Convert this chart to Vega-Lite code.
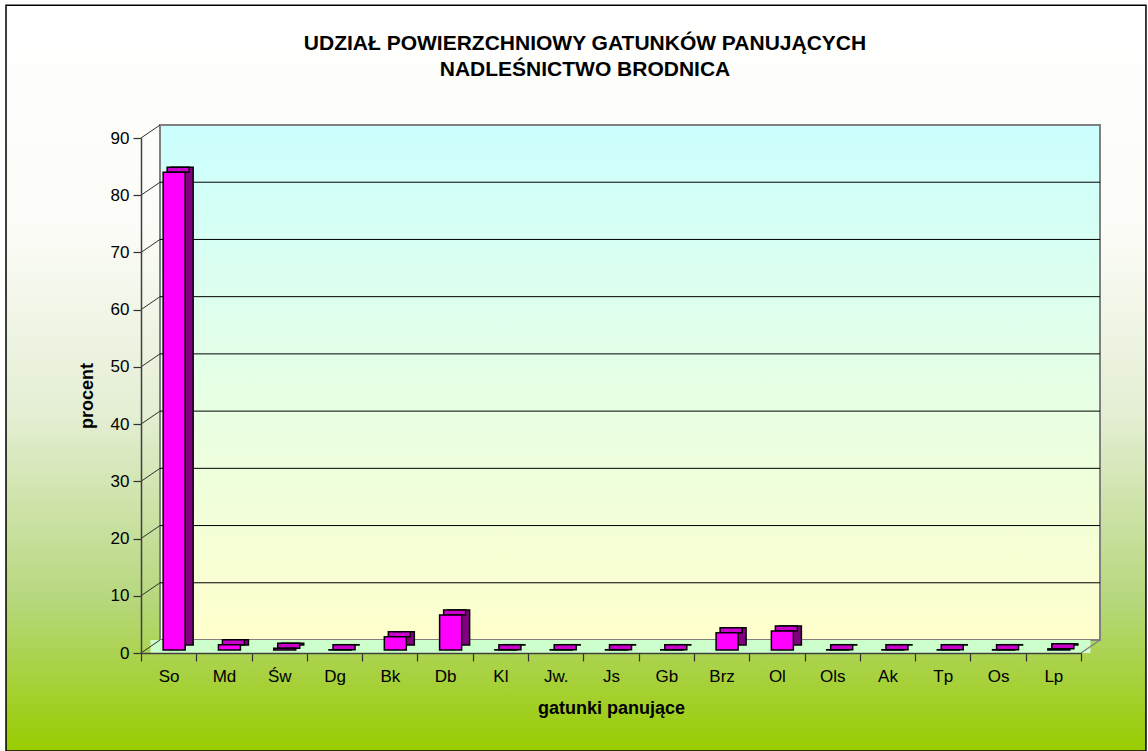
{
  "$schema": "https://vega.github.io/schema/vega-lite/v6.json",
  "width": 940,
  "height": 515,
  "autosize": {"type": "none"},
  "padding": {"left": 141, "top": 138, "right": 67, "bottom": 98},
  "background": "#ffffff",
  "title": {
    "text": ["UDZIAŁ POWIERZCHNIOWY GATUNKÓW PANUJĄCYCH", "NADLEŚNICTWO BRODNICA"],
    "font": "Liberation Sans",
    "fontSize": 21,
    "fontWeight": "bold",
    "color": "#000000",
    "offset": -76,
    "dx": -26,
    "lineHeight": 26,
    "anchor": "middle",
    "frame": "group"
  },
  "datasets": {
    "bars": [
      {"g": "So", "v": 83.5},
      {"g": "Md", "v": 0.9},
      {"g": "Św", "v": 0.3},
      {"g": "Dg", "v": 0.05},
      {"g": "Bk", "v": 2.3},
      {"g": "Db", "v": 6.1},
      {"g": "Kl", "v": 0.05},
      {"g": "Jw.", "v": 0.05},
      {"g": "Js", "v": 0.05},
      {"g": "Gb", "v": 0.05},
      {"g": "Brz", "v": 3.0},
      {"g": "Ol", "v": 3.3},
      {"g": "Ols", "v": 0.05},
      {"g": "Ak", "v": 0.05},
      {"g": "Tp", "v": 0.05},
      {"g": "Os", "v": 0.05},
      {"g": "Lp", "v": 0.2}
    ],
    "ticks": [
      {"t": 0}, {"t": 10}, {"t": 20}, {"t": 30}, {"t": 40},
      {"t": 50}, {"t": 60}, {"t": 70}, {"t": 80}, {"t": 90}
    ],
    "grid": [
      {"t": 10}, {"t": 20}, {"t": 30}, {"t": 40},
      {"t": 50}, {"t": 60}, {"t": 70}, {"t": 80}
    ],
    "one": [{"k": 1}]
  },
  "resolve": {"scale": {"x": "independent"}},
  "layer": [
    {
      "data": {"name": "one"},
      "mark": {
        "type": "rect",
        "fill": {
          "gradient": "linear", "x1": 0, "y1": 0, "x2": 0, "y2": 1,
          "stops": [
            {"offset": 0, "color": "#ffffff"},
            {"offset": 0.3, "color": "#fbfcf7"},
            {"offset": 0.55, "color": "#e4eed3"},
            {"offset": 0.8, "color": "#b6d77c"},
            {"offset": 1, "color": "#99cc00"}
          ]
        },
        "stroke": "#000000", "strokeWidth": 1.5
      },
      "encoding": {
        "x": {"datum": -0.1436, "type": "quantitative", "scale": {"domain": [0, 1], "nice": false, "zero": false}, "axis": null},
        "x2": {"datum": 1.0691},
        "y": {"datum": -17.13, "type": "quantitative"},
        "y2": {"datum": 113.2}
      }
    },
    {
      "layer": [
        {
          "data": {"name": "one"},
          "mark": {
            "type": "rect",
            "fill": {
              "gradient": "linear", "x1": 0, "y1": 0, "x2": 0, "y2": 1,
              "stops": [{"offset": 0, "color": "#ccffff"}, {"offset": 1, "color": "#ffffcc"}]
            },
            "stroke": "#808080", "strokeWidth": 2,
            "xOffset": 19, "x2Offset": 19, "yOffset": -13, "y2Offset": -13
          },
          "encoding": {
            "x": {"datum": "So", "type": "nominal", "bandPosition": 0},
            "x2": {"datum": "Lp", "bandPosition": 1},
            "y": {"datum": 0, "type": "quantitative"},
            "y2": {"datum": 90}
          }
        },
        {
          "data": {"name": "one"},
          "mark": {
            "type": "rect", "fill": "#ccffcc", "strokeWidth": 0,
            "xOffset": 9.5, "x2Offset": 9.5, "yOffset": 0, "y2Offset": -13
          },
          "encoding": {
            "x": {"datum": "So", "type": "nominal", "bandPosition": 0},
            "x2": {"datum": "Lp", "bandPosition": 1},
            "y": {"datum": 0, "type": "quantitative"},
            "y2": {"datum": 0}
          }
        },
        {
          "data": {"name": "grid"},
          "mark": {"type": "rule", "stroke": "#000000", "strokeWidth": 1, "xOffset": 19, "x2Offset": 19, "yOffset": -13},
          "encoding": {
            "x": {"datum": "So", "type": "nominal", "bandPosition": 0},
            "x2": {"datum": "Lp", "bandPosition": 1},
            "y": {"field": "t", "type": "quantitative"}
          }
        },
        {
          "data": {"name": "ticks"},
          "mark": {"type": "rule", "stroke": "#303030", "strokeWidth": 1, "x2Offset": 19, "y2Offset": -13},
          "encoding": {
            "x": {"datum": "So", "type": "nominal", "bandPosition": 0},
            "x2": {"datum": "So", "bandPosition": 0},
            "y": {"field": "t", "type": "quantitative"},
            "y2": {"field": "t"}
          }
        },
        {
          "data": {"name": "one"},
          "mark": {"type": "rule", "stroke": "#808080", "strokeWidth": 1.5, "x2Offset": 19, "y2Offset": -13},
          "encoding": {
            "x": {"datum": "Lp", "type": "nominal", "bandPosition": 1},
            "x2": {"datum": "Lp", "bandPosition": 1},
            "y": {"datum": 0, "type": "quantitative"},
            "y2": {"datum": 0}
          }
        },
        {
          "data": {"name": "bars"},
          "mark": {"type": "bar", "width": 22, "fill": "#800080", "stroke": "#000000", "strokeWidth": 1.5, "xOffset": 13.5, "yOffset": -8, "y2Offset": -8},
          "encoding": {
            "x": {"field": "g", "type": "nominal"},
            "y": {"field": "v", "type": "quantitative"},
            "y2": {"datum": 0}
          }
        },
        {
          "data": {"name": "bars"},
          "mark": {"type": "bar", "width": 22, "fill": "#cc00cc", "stroke": "#000000", "strokeWidth": 1.5, "xOffset": 9.5, "yOffset": -8, "y2Offset": -3},
          "encoding": {
            "x": {"field": "g", "type": "nominal"},
            "y": {"field": "v", "type": "quantitative"},
            "y2": {"field": "v"}
          }
        },
        {
          "data": {"name": "bars"},
          "mark": {"type": "bar", "width": 22, "fill": "#ff00ff", "stroke": "#000000", "strokeWidth": 1.5, "xOffset": 5.5, "yOffset": -3, "y2Offset": -3},
          "encoding": {
            "x": {
              "field": "g", "type": "nominal", "sort": null,
              "scale": {
                "domain": ["So", "Md", "Św", "Dg", "Bk", "Db", "Kl", "Jw.", "Js", "Gb", "Brz", "Ol", "Ols", "Ak", "Tp", "Os", "Lp"],
                "paddingInner": 0, "paddingOuter": 0
              },
              "axis": {
                "title": "gatunki panujące",
                "orient": "bottom",
                "zindex": 1,
                "domain": true,
                "domainColor": "#404040",
                "domainWidth": 1.5,
                "grid": false,
                "tickBand": "extent",
                "tickSize": 8,
                "tickColor": "#303030",
                "tickWidth": 1.2,
                "labelAngle": 0,
                "labelAlign": "center",
                "labelBaseline": "top",
                "labelFont": "Liberation Sans",
                "labelFontSize": 17,
                "labelColor": "#000000",
                "labelPadding": 7,
                "titleFont": "Liberation Sans",
                "titleFontSize": 18,
                "titleFontWeight": "bold",
                "titleColor": "#000000",
                "titlePadding": 15
              }
            },
            "y": {
              "field": "v", "type": "quantitative",
              "scale": {"domain": [0, 90], "nice": false, "zero": false},
              "axis": {
                "title": "procent",
                "orient": "left",
                "zindex": 1,
                "values": [0, 10, 20, 30, 40, 50, 60, 70, 80, 90],
                "domain": true,
                "domainColor": "#404040",
                "domainWidth": 1.5,
                "grid": false,
                "tickSize": 8,
                "tickColor": "#303030",
                "tickWidth": 1.2,
                "labelAlign": "right",
                "labelBaseline": "middle",
                "labelFont": "Liberation Sans",
                "labelFontSize": 17,
                "labelColor": "#000000",
                "labelPadding": 4,
                "titleFont": "Liberation Sans",
                "titleFontSize": 18,
                "titleFontWeight": "bold",
                "titleColor": "#000000",
                "titlePadding": 14
              }
            },
            "y2": {"datum": 0}
          }
        }
      ]
    }
  ],
  "config": {
    "view": {"fill": null, "stroke": null}
  }
}
